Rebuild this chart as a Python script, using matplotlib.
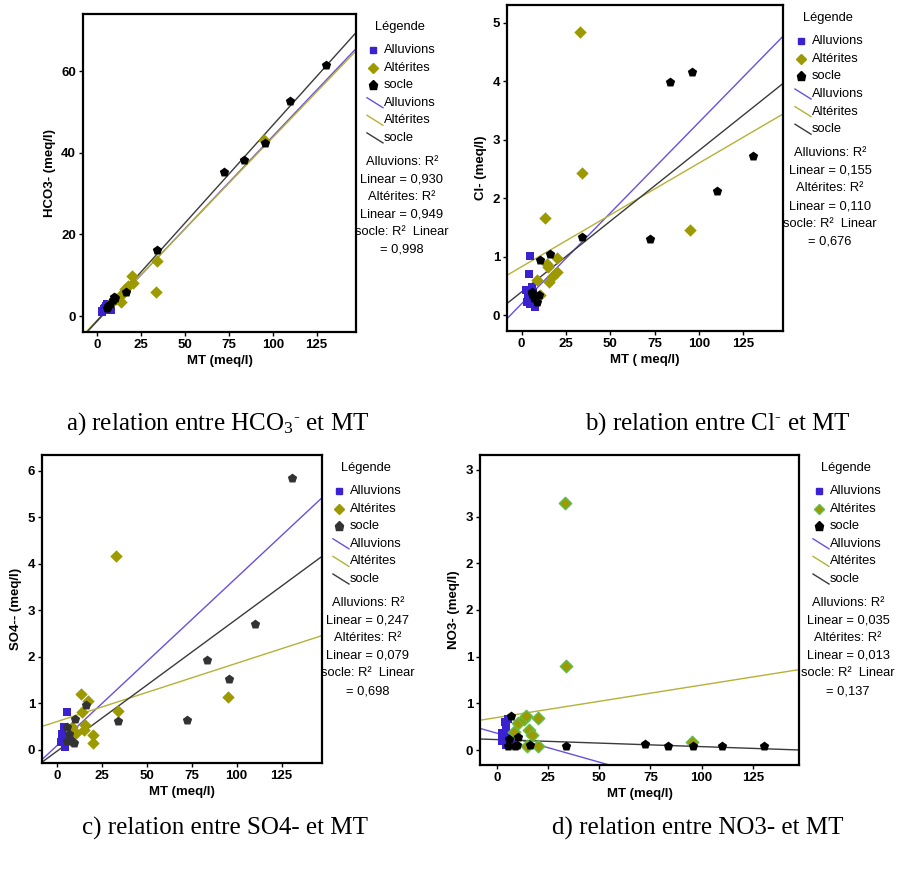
import numpy as np
import matplotlib
matplotlib.use("Agg")
import matplotlib.pyplot as plt
from matplotlib.lines import Line2D

plt.rcParams['font.family'] = ['Liberation Sans', 'DejaVu Sans']
plt.rcParams['mathtext.fontset'] = 'custom'
plt.rcParams['mathtext.rm'] = 'Liberation Serif'
plt.rcParams['mathtext.it'] = 'Liberation Serif:italic'

# --- data (meq/l) ---
mt_alluvions = [2.4, 2.8, 3.8, 4.3, 4.7, 4.7, 5.6, 6.5, 7.5]
hco3_alluvions = [1.0, 1.2, 1.8, 2.0, 2.5, 1.5, 3.0, 2.2, 1.5]
cl_alluvions = [0.43, 0.23, 0.37, 0.71, 1.02, 0.20, 0.48, 0.40, 0.15]
so4_alluvions = [0.17, 0.34, 0.27, 0.49, 0.06, 0.30, 0.81, 0.20, 0.25]
no3_alluvions = [0.18, 0.10, 0.30, 0.25, 0.05, 0.20, 0.33, 0.15, 0.08]

mt_alterites = [8.5, 10.6, 13.3, 14.2, 15.0, 15.6, 17.3, 19.9, 20.1, 33.2, 34.0, 95.3]
hco3_alterites = [3.5, 4.2, 3.5, 5.5, 6.0, 6.5, 7.3, 9.8, 8.0, 6.0, 13.5, 43.1]
cl_alterites = [0.60, 0.34, 1.67, 0.88, 0.83, 0.57, 0.65, 0.98, 0.74, 4.85, 2.43, 1.45]
so4_alterites = [0.49, 0.35, 1.19, 0.81, 0.42, 0.52, 1.05, 0.31, 0.13, 4.17, 0.83, 1.14]
no3_alterites = [0.19, 0.29, 0.33, 0.36, 0.04, 0.21, 0.16, 0.34, 0.04, 2.65, 0.90, 0.09]

mt_socle = [5.6, 5.8, 7.0, 8.9, 9.7, 10.3, 16.3, 33.9, 72.2, 83.5, 95.9, 110.0, 130.6]
hco3_socle = [2.0, 2.5, 3.0, 4.0, 4.7, 4.5, 6.0, 16.2, 35.3, 38.2, 42.5, 52.7, 61.6]
cl_socle = [0.37, 0.40, 0.30, 0.23, 0.34, 0.94, 1.05, 1.34, 1.31, 3.98, 4.15, 2.12, 2.72]
so4_socle = [0.18, 0.49, 0.34, 0.17, 0.14, 0.65, 0.96, 0.61, 0.63, 1.92, 1.52, 2.70, 5.85]
no3_socle = [0.04, 0.12, 0.36, 0.04, 0.05, 0.14, 0.05, 0.04, 0.07, 0.04, 0.04, 0.04, 0.04]

# fitted lines (intercept, slope) as drawn: alluvions, alterites, socle
fit_hco3 = [(-1.2, 0.452), (-1.0, 0.447), (-1.1, 0.478)]
fit_cl = [(0.197, 0.031), (0.83, 0.0177), (0.40, 0.02415)]
fit_so4 = [(0.08, 0.0362), (0.60, 0.01256), (-0.04, 0.02846)]
fit_no3 = [(0.181, -0.00621), (0.348, 0.00348), (0.112, -0.000754)]

r2_hco3 = ["0,930", "0,949", "0,998"]
r2_cl = ["0,155", "0,110", "0,676"]
r2_so4 = ["0,247", "0,079", "0,698"]
r2_no3 = ["0,035", "0,013", "0,137"]

groups = ["Alluvions", "Altérites", "socle"]
x_ticks = [0, 25, 50, 75, 100, 125]
no3_ticks = [0, 0.5, 1.0, 1.5, 2.0, 2.5, 3.0]
no3_tick_labels = ['0', '1', '1', '2', '2', '3', '3']

captions = [r"a) relation entre HCO$_3$$^{\text{-}}$ et MT",
            r"b) relation entre Cl$^{\text{-}}$ et MT",
            "c) relation entre SO4- et MT",
            "d) relation entre NO3- et MT"]

C_BLUE = '#3a22d0'
C_OLIVE = '#9c9a00'
C_BLUE_LINE = '#6a4fe0'
C_OLIVE_LINE = '#b4b236'
C_BLACK_LINE = '#3a3a3a'


def draw_panel(ax, ys, fits, r2, ylabel, xlabel, ylim, yticks, socle_col='black',
               dia_edge=None, leg_dx=18):
    ax.scatter(mt_alluvions, ys[0], marker='s', s=30, color=C_BLUE, zorder=3, linewidths=0)
    ax.scatter(mt_alterites, ys[1], marker='D', s=40, color=C_OLIVE, zorder=3,
               edgecolors=dia_edge if dia_edge else C_OLIVE, linewidths=1 if dia_edge else 0)
    ax.scatter(mt_socle, ys[2], marker='p', s=50, color=socle_col, zorder=4, linewidths=0)
    for (b, m), c in zip(fits, [C_BLUE_LINE, C_OLIVE_LINE, C_BLACK_LINE]):
        ax.axline((0, b), slope=m, color=c, lw=1.0, zorder=2)
    ax.set_xlim(-8.2, 147.5)
    ax.set_ylim(*ylim)
    ax.set_xticks(x_ticks)
    ax.set_yticks(yticks)
    ax.tick_params(direction='out', length=3, width=1, labelsize=9.5, pad=2)
    for lab in ax.get_xticklabels() + ax.get_yticklabels():
        lab.set_fontweight('bold')
    for sp in ax.spines.values():
        sp.set_linewidth(1.6)
    ax.set_xlabel(xlabel, fontsize=9.5, fontweight='bold', labelpad=3)
    ax.set_ylabel(ylabel, fontsize=9.5, fontweight='bold', labelpad=4)

    # legend beside the axes, placed in pixels from the top-right corner
    fig = ax.figure
    bb = ax.get_position()
    W, H = fig.get_size_inches()
    x0, y0 = bb.x1 * W, bb.y1 * H
    tr = fig.dpi_scale_trans

    def pos(dx, dy):
        return x0 + dx / 100, y0 - dy / 100

    fig.text(*pos(leg_dx + 27, 13), "Légende", transform=tr, ha='center', va='center',
             fontsize=9.3)
    mk = [('s', C_BLUE, 5), ('D', C_OLIVE, 5.5), ('p', socle_col, 6.5)]
    for i, name in enumerate(groups):
        m, c, ms = mk[i]
        px, py = pos(leg_dx, 36 + 17.6 * i)
        fig.add_artist(Line2D([px], [py], marker=m, color=c, ms=ms, ls='none',
                              mec=dia_edge if (dia_edge and m == 'D') else c, transform=tr))
        fig.text(*pos(leg_dx + 11, 36 + 17.6 * i), name, transform=tr, ha='left',
                 va='center', fontsize=9.3)
    for i, (name, c) in enumerate(zip(groups, [C_BLUE_LINE, C_OLIVE_LINE, C_BLACK_LINE])):
        dy = 36 + 17.6 * (i + 3)
        xa, ya = pos(leg_dx - 6, dy - 5)
        xb, yb = pos(leg_dx + 10, dy + 5)
        fig.add_artist(Line2D([xa, xb], [ya, yb], color=c, lw=1, transform=tr))
        fig.text(*pos(leg_dx + 11, dy), name, transform=tr, ha='left', va='center',
                 fontsize=9.3)
    lines = ["Alluvions: R²", "Linear = " + r2[0], "Altérites: R²", "Linear = " + r2[1],
             "socle: R²  Linear", "= " + r2[2]]
    for i, t in enumerate(lines):
        fig.text(*pos(leg_dx + 29, 148 + 17.6 * i), t, transform=tr, ha='center',
                 va='center', fontsize=9.3)


fig = plt.figure(figsize=(9.09, 8.69), dpi=100)
ax_a = fig.add_axes([0.0913, 0.618, 0.3003, 0.366])
ax_b = fig.add_axes([0.5578, 0.619, 0.3036, 0.375])
ax_c = fig.add_axes([0.0462, 0.122, 0.308, 0.3544])
ax_d = fig.add_axes([0.528, 0.1197, 0.351, 0.3567])

draw_panel(ax_a, [hco3_alluvions, hco3_alterites, hco3_socle], fit_hco3, r2_hco3,
           "HCO3- (meq/l)", "MT (meq/l)", (-3.9, 74), [0, 20, 40, 60], leg_dx=17)
draw_panel(ax_b, [cl_alluvions, cl_alterites, cl_socle], fit_cl, r2_cl,
           "Cl- (meq/l)", "MT ( meq/l)", (-0.27, 5.3), [0, 1, 2, 3, 4, 5], leg_dx=18)
draw_panel(ax_c, [so4_alluvions, so4_alterites, so4_socle], fit_so4, r2_so4,
           "SO4-- (meq/l)", "MT (meq/l)", (-0.29, 6.34), [0, 1, 2, 3, 4, 5, 6],
           socle_col='#333333', leg_dx=17)
draw_panel(ax_d, [no3_alluvions, no3_alterites, no3_socle], fit_no3, r2_no3,
           "NO3- (meq/l)", "MT (meq/l)", (-0.16, 3.16), no3_ticks,
           dia_edge='#5cc04a', leg_dx=20)
ax_d.set_yticklabels(no3_tick_labels, fontweight='bold')

cap_pos = [(0.239, 0.513), (0.790, 0.513), (0.248, 0.047), (0.768, 0.047)]
for (x, y), t in zip(cap_pos, captions):
    fig.text(x, y, t, ha='center', va='center', fontsize=18, family='Liberation Serif')

fig.savefig("out.png", dpi=100)
